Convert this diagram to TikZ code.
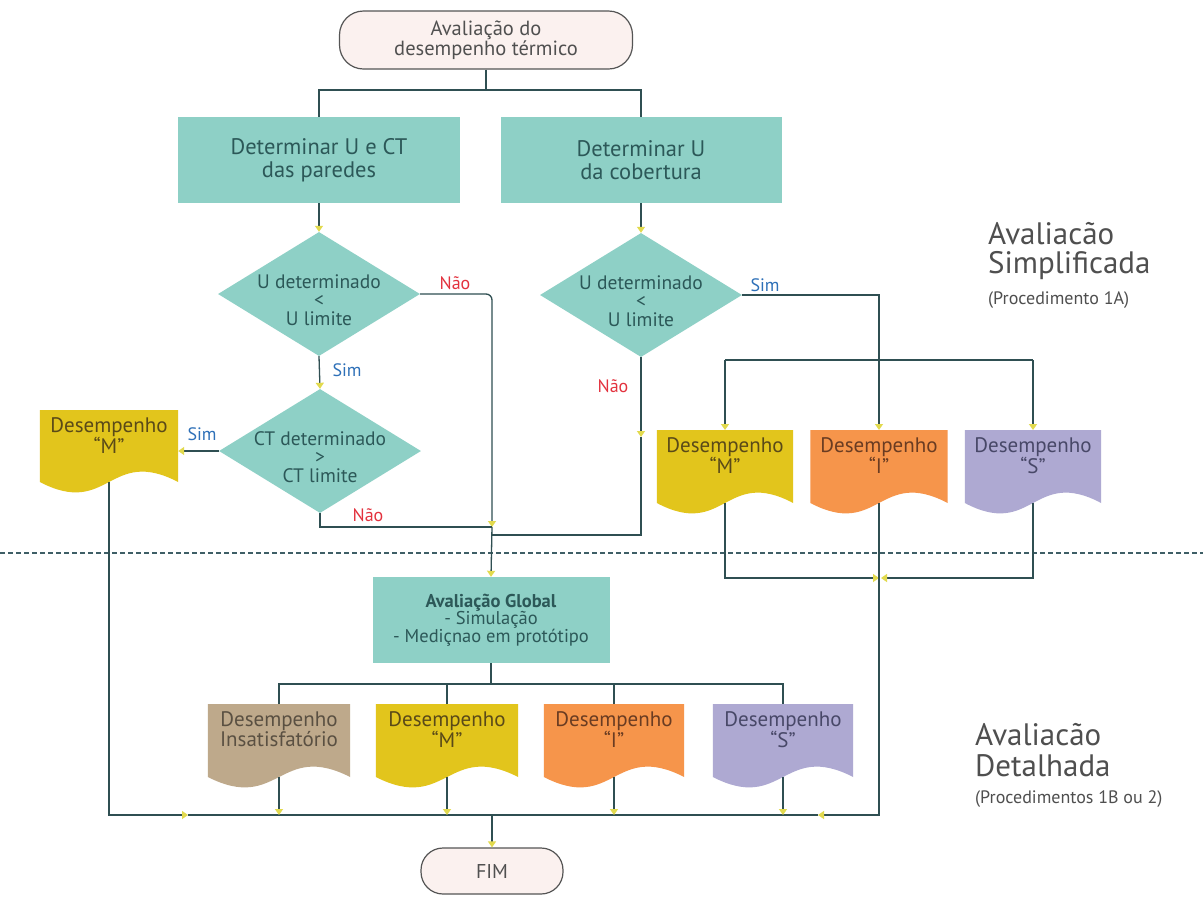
\documentclass[tikz,border=0pt]{standalone}
\usepackage{fontspec}
\setmainfont{PT Sans}
\usetikzlibrary{arrows.meta,calc,shapes.geometric,backgrounds}
\definecolor{lc}{HTML}{2F4F52}
\definecolor{ac}{HTML}{E2DA4E}
\definecolor{tealf}{HTML}{8ED0C6}
\definecolor{tealt}{HTML}{2C5858}
\definecolor{termf}{HTML}{FBF1EF}
\definecolor{termd}{HTML}{555555}
\definecolor{termt}{HTML}{505050}
\definecolor{mcol}{HTML}{E2C51C}
\definecolor{icol}{HTML}{F6954B}
\definecolor{scol}{HTML}{AEA9D2}
\definecolor{ucol}{HTML}{BEA98B}
\definecolor{mtxt}{HTML}{5A4A18}
\definecolor{itxt}{HTML}{6A3C22}
\definecolor{stxt}{HTML}{484868}
\definecolor{utxt}{HTML}{5A5042}
\definecolor{naored}{HTML}{E3323E}
\definecolor{simblue}{HTML}{2E70B8}
\definecolor{sidet}{HTML}{4F4F4F}
\definecolor{dashc}{HTML}{3E5E66}
\newcommand{\dtxt}[1]{\raisebox{-14pt}[0pt][0pt]{\makebox[0pt]{\begin{tabular}{@{}c@{}}#1\end{tabular}}}}
\newcommand{\docbg}[3]{%
  \fill[#2] (#1.north west) -- (#1.north east) -- ($(#1.north east)+(0,#3)$)
    .. controls ($(#1.north)+(0,#3-36)$) and ($(#1.north)+(0,#3+36)$) .. ($(#1.north west)+(0,#3)$) -- cycle;
  \coordinate (#1-b) at ($(#1.north)+(0,#3)$);}
\begin{document}
\begin{tikzpicture}[x=1pt,y=-1pt,
  line/.style={draw=lc,line width=1.3pt},
  arr/.style={line,-{Triangle[length=6pt,width=8pt,color=ac]}},
  term/.style={draw=termd,line width=1.2pt,fill=termf,rounded corners=24pt,text=termt,align=center,inner sep=0pt},
  proc/.style={fill=tealf,text=tealt,align=center,inner sep=0pt},
  dia/.style={diamond,fill=tealf,inner sep=0pt,minimum width=202pt,minimum height=124pt,text=tealt,font=\fontsize{19.5}{17.5}\selectfont},
  doct/.style={anchor=north,minimum width=#1,inner xsep=0pt,inner ysep=7pt,align=center,font=\fontsize{21}{17}\selectfont},
  nao/.style={text=naored,font=\fontsize{18}{18}\selectfont,inner sep=0pt},
  sim/.style={text=simblue,font=\fontsize{18}{18}\selectfont,inner sep=0pt},
  sideb/.style={anchor=west,text=sidet,inner sep=0pt,font=\fontsize{31}{31}\selectfont},
  sides/.style={anchor=west,text=sidet,inner sep=0pt,font=\fontsize{18}{18}\selectfont}]
\useasboundingbox (0,0) rectangle (1203,906);

% nodes
\node[term,minimum width=293pt,minimum height=58pt,font=\fontsize{20.5}{20}\selectfont] (start) at (486,40) {Avaliação do\\desempenho térmico};
\node[proc,minimum width=282pt,minimum height=86pt,font=\fontsize{22.5}{23}\selectfont] (b1) at (319,160) {Determinar U e CT\\das paredes};
\node[proc,minimum width=281pt,minimum height=86pt,font=\fontsize{22.5}{23}\selectfont] (b2) at (641,160) {Determinar U\\da cobertura};
\node[dia] (d1) at (319,294) {\dtxt{U determinado\\<\\U limite}};
\node[dia] (d2) at (320,451) {\dtxt{CT determinado\\>\\CT limite}};
\node[dia] (d3) at (641,295) {\dtxt{U determinado\\<\\U limite}};
\node[proc,minimum width=237pt,minimum height=86pt,font=\fontsize{18.5}{17.5}\selectfont] (ag) at (491,620) {\textbf{Avaliação Global}\\- Simulação\\- Mediçnao em protótipo};
\node[term,minimum width=142pt,minimum height=46pt,rounded corners=22pt,font=\fontsize{20}{20}\selectfont] (fim) at (492,871) {FIM};

\node[doct=138pt,text=mtxt] (mL) at (109,410) {Desempenho\\``M''};
\node[doct=136pt,text=mtxt] (rM) at (725,430) {Desempenho\\``M''};
\node[doct=137pt,text=itxt] (rI) at (879,430) {Desempenho\\``I''};
\node[doct=136pt,text=stxt] (rS) at (1033,430) {Desempenho\\``S''};
\node[doct=142pt,text=utxt] (lU) at (279,704) {Desempenho\\Insatisfatório};
\node[doct=142pt,text=mtxt] (lM) at (447,704) {Desempenho\\``M''};
\node[doct=140pt,text=itxt] (lI) at (614,704) {Desempenho\\``I''};
\node[doct=140pt,text=stxt] (lS) at (783,704) {Desempenho\\``S''};

\begin{scope}[on background layer]
\fill[white] (0,0) rectangle (1203,906);
\docbg{mL}{mcol}{72}
\docbg{rM}{mcol}{73}
\docbg{rI}{icol}{73}
\docbg{rS}{scol}{73}
\docbg{lU}{ucol}{73}
\docbg{lM}{mcol}{73}
\docbg{lI}{icol}{73}
\docbg{lS}{scol}{73}
\end{scope}

% labels
\node[nao] (n1) at (455,283) {Não};
\node[sim] (s1) at (347,370) {Sim};
\node[sim] (s2) at (202,434) {Sim};
\node[nao] (n2) at (368,515) {Não};
\node[nao] (n3) at (613,386) {Não};
\node[sim] (s3) at (765,285) {Sim};

\node[sideb] (sa1) at (988,234) {Avaliacão};
\node[sideb] (sa2) at (988,266) {Simplificada};
\node[sides] (sa3) at (988,300) {(Procedimento 1A)};
\node[sideb] (sb1) at (975,735) {Avaliacão};
\node[sideb] (sb2) at (975,766) {Detalhada};
\node[sides] (sb3) at (975,799) {(Procedimentos 1B ou 2)};

% coordinates
\coordinate (j0) at (486,90);
\coordinate (m1) at (492,527);
\coordinate (m2) at (641,437);
\coordinate (m3) at (492,535);
\coordinate (dl) at (725,360);
\coordinate (dr) at (1033,360);
\coordinate (jr1) at (879,578);
\coordinate (jr2) at (881,578);
\coordinate (jb) at (492,815);
\coordinate (aL) at (188,815);
\coordinate (aR) at (818,815);
\coordinate (j2) at (491,684);
\coordinate (dsL) at (0,553);
\coordinate (dsR) at (1203,553);

% dashed separator
\draw[dashc,line width=1.2pt,dash pattern=on 5pt off 3pt] (dsL) -- (dsR);

% connectors
\draw[line] (start.south) -- (j0);
\draw[line] (b1.north) |- (j0) -| (b2.north);
\draw[arr] (b1.south) -- (d1.north);
\draw[arr] (b2.south) -- (d3.north);
\draw[arr,rounded corners=6pt] (d1.east) -| (m1);
\draw[arr] (d1.south) -- (d2.north);
\draw[arr] (d2.west) -- (d2.west -| mL.east);
\draw[line] (d2.south) |- (m1);
\draw[arr] (d3.south) -- (m2);
\draw[line] (m2) |- (m3);
\draw[arr] (m1) -- (ag.north);
\draw[arr] (d3.east) -| (rI.north);
\draw[line] (dl) -- (dr);
\draw[arr] (dl) -- (rM.north);
\draw[arr] (dr) -- (rS.north);
\draw[arr] (rM-b) |- (jr1);
\draw[arr] (rS-b) |- (jr2);
\draw[arr] (rI-b) |- (aR);
\draw[line] (aR) -- (jb);
\draw[arr] (mL-b) |- (aL);
\draw[line] (aL) -- (jb);
\draw[line] (ag.south) -- (j2);
\draw[line] (lU.north) |- (j2) -| (lS.north);
\draw[line] (lM.north) -- (lM.north |- j2);
\draw[line] (lI.north) -- (lI.north |- j2);
\draw[arr] (lU-b) -- (lU-b |- jb);
\draw[arr] (lM-b) -- (lM-b |- jb);
\draw[arr] (lI-b) -- (lI-b |- jb);
\draw[arr] (lS-b) -- (lS-b |- jb);
\draw[arr] (jb) -- (fim.north);
\end{tikzpicture}
\end{document}
